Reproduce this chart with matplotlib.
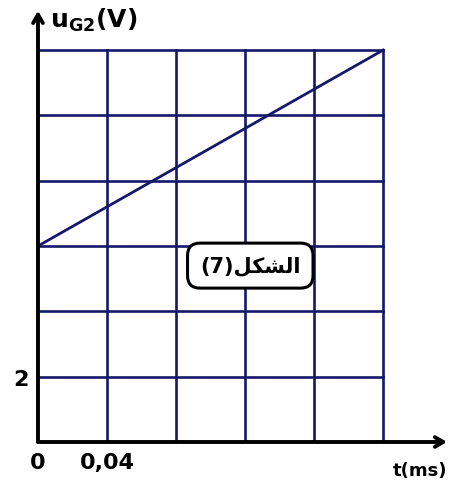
import matplotlib
matplotlib.use("Agg")
import matplotlib.pyplot as plt

# grid divisions (t in ms, u in V)
t_grid = [0.04, 0.08, 0.12, 0.16, 0.2]
u_grid = [2, 4, 6, 8, 10, 12]

# u_G2(t) straight line
t_line = [0.0, 0.2]
u_line = [6.0, 12.0]

x_ticks = [0.0, 0.04]
x_ticklabels = ["0", "0,04"]
y_ticks = [2]
y_ticklabels = ["2"]

navy = "#15186a"

fig = plt.figure(figsize=(4.55, 4.85), dpi=100)
ax = fig.add_axes([0.0835, 0.0866, 0.899, 0.889])
ax.set_xlim(0, 0.237)
ax.set_ylim(0, 13.2)

# grid
for t in t_grid:
    ax.plot([t, t], [0, u_grid[-1]], color=navy, lw=1.9, zorder=1)
for u in u_grid:
    ax.plot([0, t_grid[-1]], [u, u], color=navy, lw=1.9, zorder=1)

ax.plot(t_line, u_line, color=navy, lw=2.0, zorder=2)

for s in ax.spines.values():
    s.set_visible(False)

# axes with arrows
arrow = dict(arrowstyle="->,head_length=0.6,head_width=0.35", lw=2.8, color="black",
             shrinkA=0, shrinkB=0)
ax.annotate("", xy=(0.237, 0), xytext=(0, 0), arrowprops=arrow, annotation_clip=False)
ax.annotate("", xy=(0, 13.2), xytext=(0, 0), arrowprops=arrow, annotation_clip=False)

ax.set_xticks(x_ticks)
ax.set_xticklabels(x_ticklabels, fontsize=16, fontweight="bold")
ax.set_yticks(y_ticks)
ax.set_yticklabels(y_ticklabels, fontsize=16, fontweight="bold")
ax.tick_params(length=0, pad=7)

ax.text(0.007, 12.95, r"$\mathbf{u_{G2}(V)}$", fontsize=18, ha="left", va="center")
ax.text(0.237, -0.85, "t(ms)", fontsize=13, fontweight="bold", ha="right", va="center")

# figure caption box (Arabic shaped glyphs)
ax.text(0.123, 5.4, "(7)ﻞﻜﺸﻟﺍ", fontsize=15, fontweight="bold", ha="center", va="center",
        family=["DejaVu Sans"],
        bbox=dict(boxstyle="round,pad=0.6,rounding_size=0.6", fc="white", ec="black", lw=2.2),
        zorder=3)

fig.savefig("out.png", dpi=100)
